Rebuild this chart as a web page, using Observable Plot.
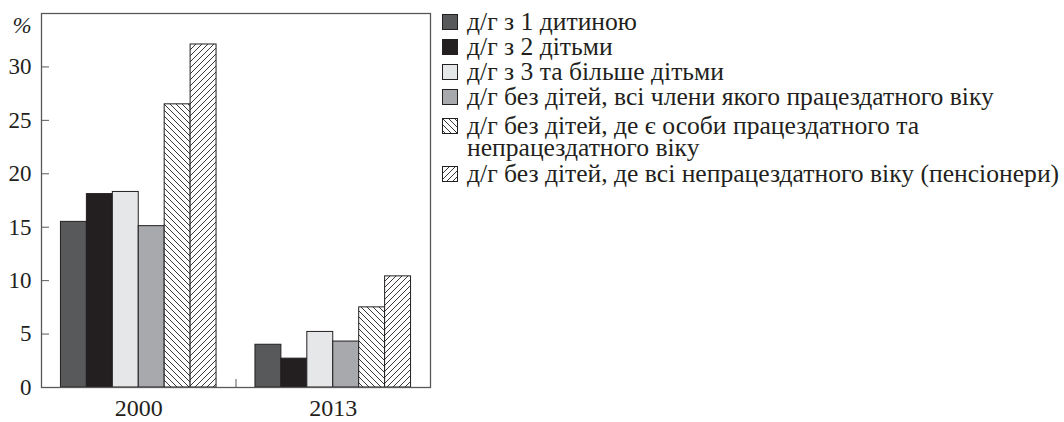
<!DOCTYPE html>
<html><head><meta charset="utf-8">
<script src="https://cdn.jsdelivr.net/npm/d3@7"></script>
<script src="https://cdn.jsdelivr.net/npm/@observablehq/plot@0.6"></script>
<style>
body{margin:0;background:#fff;font-family:"Liberation Serif","DejaVu Serif",serif;color:#231f20;}
#wrap{position:relative;width:1064px;height:422px;overflow:hidden;}
#chart{position:absolute;left:0;top:0;}
#legend{position:absolute;left:442px;top:9px;font-size:25.6px;font-family:"Liberation Serif",serif;}
.row{position:relative;height:25px;padding-left:25px;white-space:nowrap;}
.row span{display:inline-block;height:25px;line-height:25px;overflow:visible;vertical-align:top;}
.row.two{height:46px;margin-top:6px;}
.row.two span{height:44px;line-height:22px;}
.sw{position:absolute;left:0;top:5px;width:14px;height:14px;border:1px solid #231f20;}
.row.two .sw{top:3px;}
.sw svg{display:block;}
</style></head><body>
<svg width="0" height="0" style="position:absolute">
<defs>
<pattern id="hatchBack" patternUnits="userSpaceOnUse" width="6" height="6">
<rect width="6" height="6" fill="#fff"/>
<path d="M-1,-1 L7,7 M-1,5 L1,7 M5,-1 L7,1" stroke="#231f20" stroke-width="0.9"/>
</pattern>
<pattern id="hatchFwd" patternUnits="userSpaceOnUse" width="6" height="6">
<rect width="6" height="6" fill="#fff"/>
<path d="M-1,7 L7,-1 M-1,1 L1,-1 M5,7 L7,5" stroke="#231f20" stroke-width="0.9"/>
</pattern>
</defs>
</svg>
<div id="wrap"><div id="chart"></div><div id="legend"></div></div>
<script>
const years = ["2000", "2013"];
const categories = [
  "д/г з 1 дитиною",
  "д/г з 2 дітьми",
  "д/г з 3 та більше дітьми",
  "д/г без дітей, всі члени якого працездатного віку",
  "д/г без дітей, де є особи працездатного та непрацездатного віку",
  "д/г без дітей, де всі непрацездатного віку (пенсіонери)"
];
const values2000 = [15.5, 18.1, 18.3, 15.1, 26.5, 32.1];
const values2013 = [4.0, 2.7, 5.2, 4.3, 7.5, 10.4];
const fills = ["#58595b", "#231f20", "#e6e7e8", "#a7a9ac", "url(#hatchBack)", "url(#hatchFwd)"];
const yTicks = [0, 5, 10, 15, 20, 25, 30];

const groupWidth = 0.8;
const barW = groupWidth / categories.length;
const rows = [];
[values2000, values2013].forEach((vals, yi) => {
  vals.forEach((v, ci) => {
    const x1 = yi - groupWidth / 2 + ci * barW;
    rows.push({year: years[yi], category: categories[ci], value: v, x1, x2: x1 + barW, fill: fills[ci]});
  });
});

const chart = Plot.plot({
  width: 440, height: 422,
  marginLeft: 41, marginRight: 10, marginTop: 13, marginBottom: 35,
  x: {domain: [-0.5, 1.5]},
  y: {domain: [0, 35]},
  color: {type: "identity"},
  style: {fontFamily: "'Liberation Serif', serif", fontSize: "23px", color: "#231f20", background: "#fff"},
  marks: [
    Plot.rectY(rows, {x1: "x1", x2: "x2", y: "value", fill: "fill", stroke: "#231f20", strokeWidth: 1}),
    Plot.frame({stroke: "#58595b", strokeWidth: 1.3}),
    Plot.axisY({ticks: yTicks, tickSize: -8, tickPadding: 18, label: null, stroke: "#58595b", fontSize: 23}),
    Plot.axisX({ticks: [0, 1], tickSize: 0, tickPadding: 11, tickFormat: i => years[i], label: null, fontSize: 24}),
    Plot.axisX({ticks: [0.5], tickSize: -8, tickFormat: () => "", label: null, stroke: "#58595b"}),
    Plot.text(["%"], {frameAnchor: "top-left", dx: -29, dy: 3, lineAnchor: "top", fontStyle: "italic", fontSize: 23})
  ]
});
document.getElementById("chart").appendChild(chart);

const legend = d3.select("#legend");
categories.forEach((c, i) => {
  const two = i === 4;
  const row = legend.append("div").attr("class", "row" + (two ? " two" : ""));
  const sw = row.append("div").attr("class", "sw");
  sw.append("svg").attr("width", 14).attr("height", 14)
    .append("rect").attr("width", 14).attr("height", 14).attr("fill", fills[i]);
  if (two) {
    row.append("span").html("д/г без дітей, де є особи працездатного та<br>непрацездатного віку");
  } else {
    row.append("span").text(c);
  }
});
</script>
</body></html>
